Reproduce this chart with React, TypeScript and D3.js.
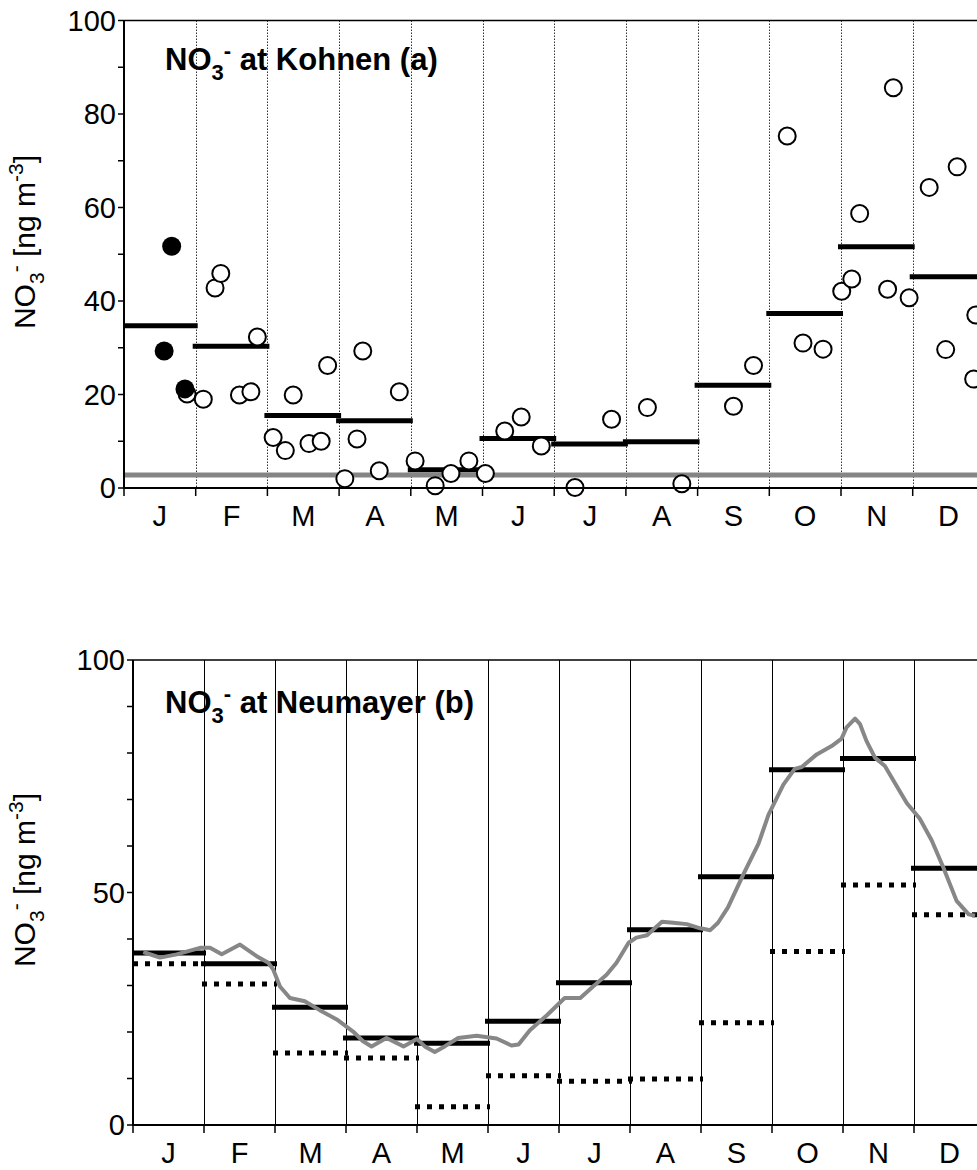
import React from 'react';
import * as d3 from 'd3';

const FONT = '"Liberation Sans", Arial, Helvetica, sans-serif';

// month initials on the x axis
const monthLabels = ['J', 'F', 'M', 'A', 'M', 'J', 'J', 'A', 'S', 'O', 'N', 'D'];

// Kohnen monthly means (black bars on top, dotted bars below)
const kohnenMeans = [34.7, 30.3, 15.5, 14.4, 3.9, 10.6, 9.4, 9.9, 22.0, 37.3, 51.6, 45.2];
// detection limit (grey line in panel a)
const detectionLimit = 2.8;

// single samples at Kohnen, position in months since 1 Jan
const kohnenOpenMonth = [0.88, 1.106, 1.27, 1.35, 1.61, 1.77, 1.86, 2.08, 2.25, 2.36, 2.58, 2.75, 2.84,
  3.08, 3.25, 3.33, 3.56, 3.84, 4.06, 4.34, 4.56, 4.81, 5.04, 5.31, 5.54, 5.82, 6.29, 6.8, 7.3, 7.78,
  8.5, 8.78, 9.25, 9.47, 9.75, 10.01, 10.15, 10.26, 10.65, 10.73, 10.95, 11.23, 11.46, 11.62, 11.85, 11.88];
const kohnenOpenValue = [20.1, 19.0, 42.8, 45.9, 19.9, 20.6, 32.3, 10.8, 8.0, 19.9, 9.5, 10.0, 26.2,
  2.0, 10.5, 29.3, 3.7, 20.6, 5.8, 0.5, 3.1, 5.8, 3.1, 12.2, 15.2, 9.0, 0.1, 14.7, 17.2, 0.9,
  17.5, 26.2, 75.3, 31.0, 29.7, 42.1, 44.7, 58.7, 42.5, 85.6, 40.7, 64.3, 29.6, 68.7, 23.3, 37.0];
const kohnenFilledMonth = [0.665, 0.56, 0.85];
const kohnenFilledValue = [51.7, 29.3, 21.2];

// Neumayer monthly means
const neumayerMeans = [37.0, 34.7, 25.3, 18.7, 17.6, 22.3, 30.6, 42.0, 53.4, 76.4, 78.8, 55.2];
// Neumayer running mean (grey curve)
const neumayerRunMonth = [0.145, 0.38, 0.615, 0.944, 1.085, 1.25, 1.507, 1.742, 1.906, 1.976, 2.07, 2.21,
  2.42, 2.63, 2.87, 3.1, 3.24, 3.36, 3.57, 3.81, 4.0, 4.11, 4.25, 4.39, 4.58, 4.84, 5.12, 5.33, 5.43,
  5.59, 5.83, 6.08, 6.3, 6.48, 6.67, 6.81, 6.98, 7.09, 7.24, 7.45, 7.61, 7.8, 7.99, 8.13, 8.24, 8.38,
  8.6, 8.81, 8.95, 9.16, 9.32, 9.42, 9.63, 9.84, 9.98, 10.05, 10.17, 10.24, 10.33, 10.45, 10.59,
  10.76, 10.9, 11.08, 11.25, 11.41, 11.6, 11.77, 11.86];
const neumayerRunValue = [37.2, 36.0, 36.7, 38.1, 38.1, 36.7, 38.8, 36.3, 34.9, 33.4, 29.8, 27.3,
  26.6, 24.7, 22.7, 20.1, 18.0, 16.9, 18.7, 16.9, 18.5, 16.9, 15.7, 16.9, 18.7, 19.2, 18.6, 17.1, 17.3,
  20.4, 23.6, 27.3, 27.3, 29.8, 32.3, 34.9, 39.2, 40.3, 40.8, 43.7, 43.5, 43.2, 42.3, 41.9, 43.5, 46.8,
  54.0, 60.5, 66.7, 73.2, 76.6, 77.0, 79.7, 81.5, 83.1, 85.5, 87.4, 86.2, 82.6, 79.0, 77.2,
  72.8, 69.2, 65.9, 61.2, 55.5, 48.2, 45.3, 45.0];

const topTicks = [0, 20, 40, 60, 80, 100];
const bottomTicks = [0, 50, 100];
const minorTicks = d3.range(0, 101, 10);

const W = 977;
const H = 1170;

// snap a 1px line onto the pixel grid
const crisp = v => Math.round(v) + 0.5;

function YLabel({ x, y }) {
  return (
    <text transform={`translate(${x},${y}) rotate(-90)`} textAnchor="middle" fontSize={30} fontFamily={FONT}>
      NO<tspan fontSize={21} dy={9}>3</tspan>
      <tspan fontSize={21} dy={-21}>-</tspan>
      <tspan fontSize={30} dy={12}>{' [ng m'}</tspan>
      <tspan fontSize={21} dy={-12}>-3</tspan>
      <tspan fontSize={30} dy={12}>]</tspan>
    </text>
  );
}

function Title({ x, y, text }) {
  return (
    <text x={x} y={y} fontSize={31} fontWeight="bold" fontFamily={FONT}>
      NO<tspan fontSize={22} dy={10}>3</tspan>
      <tspan fontSize={22} dy={-22}>-</tspan>
      <tspan fontSize={31} dy={12}>{' ' + text}</tspan>
    </text>
  );
}

function Frame({ x, y, dividerStyle }) {
  const [x0] = x.range();
  const y0 = y(0);
  const yTop = y(100);
  return (
    <g>
      {d3.range(1, 13).map(m => (
        <line key={'d' + m} x1={crisp(x(m))} x2={crisp(x(m))} y1={yTop} y2={y0}
          stroke={dividerStyle === 'dotted' ? '#333' : '#000'} strokeWidth={1}
          strokeDasharray={dividerStyle === 'dotted' ? '1.5,1.5' : null} />
      ))}
      <line x1={x0} x2={W} y1={yTop} y2={yTop} stroke="#000" strokeWidth={1.5} />
    </g>
  );
}

function AxisLines({ x, y, majors }) {
  const [x0] = x.range();
  const y0 = y(0);
  return (
    <g fontFamily={FONT}>
      <line x1={x0} x2={x0} y1={y(100)} y2={y0 + 1} stroke="#000" strokeWidth={2} />
      <line x1={x0} x2={W} y1={y0} y2={y0} stroke="#000" strokeWidth={2} />
      {minorTicks.map(t => (
        <line key={'mt' + t} x1={x0 - 6} x2={x0} y1={y(t)} y2={y(t)} stroke="#000" strokeWidth={1.5} />
      ))}
      {majors.map(t => (
        <text key={'yl' + t} x={x0 - 8} y={y(t)} dy="0.36em" textAnchor="end" fontSize={29}>{t}</text>
      ))}
      {d3.range(0, 13).map(m => (
        <line key={'xt' + m} x1={x(m)} x2={x(m)} y1={y0} y2={y0 + 8} stroke="#000" strokeWidth={1.5} />
      ))}
      {monthLabels.map((lab, i) => (
        <text key={'xl' + i} x={x(i + 0.5)} y={y0 + 38} textAnchor="middle" fontSize={29}>{lab}</text>
      ))}
    </g>
  );
}

export default function App() {
  // panel a: Kohnen
  const xA = d3.scaleLinear().domain([0, 12]).range([124, 124 + 71.7 * 12]);
  const yA = d3.scaleLinear().domain([0, 100]).range([488, 20.5]);
  // panel b: Neumayer
  const xB = d3.scaleLinear().domain([0, 12]).range([133, 133 + 71 * 12]);
  const yB = d3.scaleLinear().domain([0, 100]).range([1125, 660]);

  const runLine = d3.line()
    .x(d => xB(d[0]))
    .y(d => yB(d[1]));
  const runData = neumayerRunMonth.map((m, i) => [m, neumayerRunValue[i]]);

  return (
    <svg width={W} height={H} style={{ position: 'absolute', left: 0, top: 0, background: '#fff' }}>
      <rect width={W} height={H} fill="#fff" />

      {/* panel a */}
      <Frame x={xA} y={yA} dividerStyle="dotted" />
      <line x1={xA(0)} x2={W} y1={yA(detectionLimit)} y2={yA(detectionLimit)} stroke="#858585" strokeWidth={5} />
      {kohnenMeans.map((v, i) => (
        <line key={'ka' + i} x1={xA(i) - (i ? 3 : 0)} x2={xA(i + 1) + 2} y1={yA(v)} y2={yA(v)}
          stroke="#000" strokeWidth={5} />
      ))}
      {kohnenOpenMonth.map((m, i) => (
        <circle key={'ko' + i} cx={xA(m)} cy={yA(kohnenOpenValue[i])} r={8.5}
          fill="#fff" stroke="#000" strokeWidth={2} />
      ))}
      {kohnenFilledMonth.map((m, i) => (
        <circle key={'kf' + i} cx={xA(m)} cy={yA(kohnenFilledValue[i])} r={9.5} fill="#000" />
      ))}
      <AxisLines x={xA} y={yA} majors={topTicks} />
      <Title x={165} y={70} text="at Kohnen (a)" />
      <YLabel x={35} y={242} />

      {/* panel b */}
      <Frame x={xB} y={yB} dividerStyle="solid" />
      {kohnenMeans.map((v, i) => (
        <line key={'kb' + i} x1={xB(i) - (i ? 2 : 0)} x2={xB(i + 1) + 2} y1={yB(v)} y2={yB(v)}
          stroke="#000" strokeWidth={5} strokeDasharray="5,7" />
      ))}
      {neumayerMeans.map((v, i) => (
        <line key={'nb' + i} x1={xB(i) - (i ? 3 : 0)} x2={xB(i + 1) + 2} y1={yB(v)} y2={yB(v)}
          stroke="#000" strokeWidth={5} />
      ))}
      <path d={runLine(runData)} fill="none" stroke="#878787" strokeWidth={4} strokeLinejoin="round" />
      <AxisLines x={xB} y={yB} majors={bottomTicks} />
      <Title x={165} y={713} text="at Neumayer (b)" />
      <YLabel x={35} y={880} />
    </svg>
  );
}
